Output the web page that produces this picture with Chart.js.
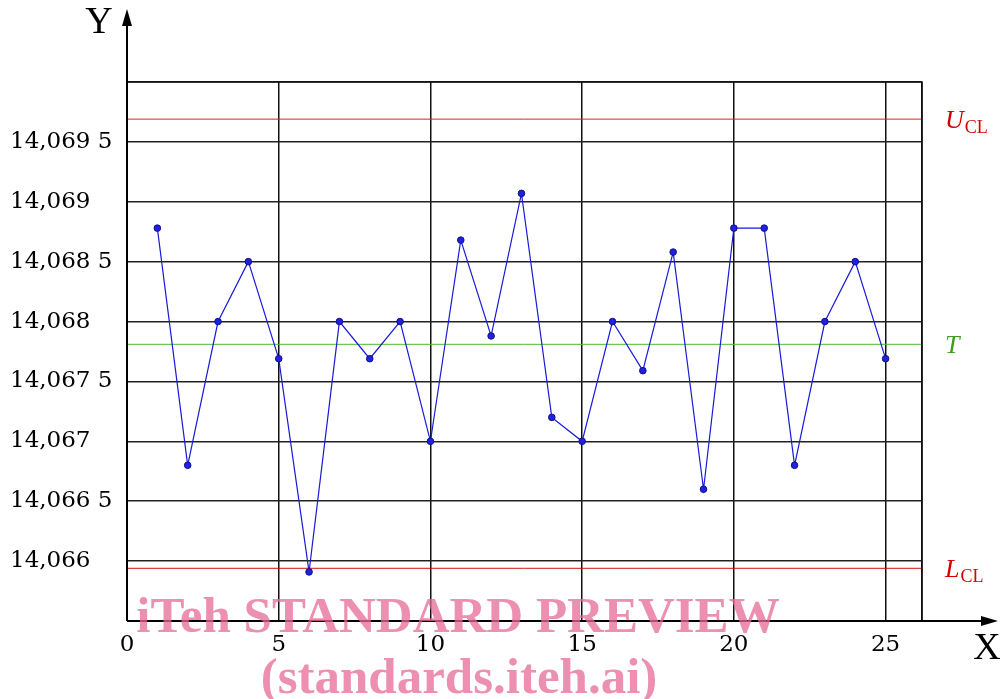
<!DOCTYPE html>
<html>
<head>
<meta charset="utf-8">
<script src="https://cdn.jsdelivr.net/npm/chart.js@4.4.1/dist/chart.umd.min.js"></script>
<style>
  html, body { margin: 0; padding: 0; background: #fff; }
  #wrap { width: 1000px; height: 699px; }
</style>
</head>
<body>
<div id="wrap"><canvas id="c" width="1000" height="699"></canvas></div>
<script>
// sample number 1..25 and measured value
const samples = [1, 2, 3, 4, 5, 6, 7, 8, 9, 10, 11, 12, 13, 14, 15, 16, 17, 18, 19, 20, 21, 22, 23, 24, 25];
const values = [
  14.06878, 14.0668, 14.068, 14.0685, 14.06769, 14.06591, 14.068, 14.06769, 14.068, 14.067,
  14.06868, 14.06788, 14.06907, 14.0672, 14.067, 14.068, 14.06759, 14.06858, 14.0666, 14.06878,
  14.06878, 14.0668, 14.068, 14.0685, 14.06769
];
const UCL = 14.06969;
const TARGET = 14.06781;
const LCL = 14.06594;

const xTicks = [0, 5, 10, 15, 20, 25, 26.2];
const xLabels = ["0", "5", "10", "15", "20", "25", ""];
const yTicks = [14.0655, 14.066, 14.0665, 14.067, 14.0675, 14.068, 14.0685, 14.069, 14.0695, 14.07];
const yLabels = ["", "14,066", "14,066 5", "14,067", "14,067 5", "14,068", "14,068 5", "14,069", "14,069 5", ""];

const X_MAX = 26.2;
const serif = "'Liberation Serif', 'DejaVu Serif', serif";
const tickFont = "'DejaVu Serif', serif";

const series = samples.map((s, i) => ({ x: s, y: values[i] }));
const hline = (v) => [{ x: 0, y: v }, { x: X_MAX, y: v }];

const decor = {
  id: "decor",
  afterDraw(chart) {
    const { ctx, chartArea: a, scales } = chart;
    ctx.save();
    // frame top and right
    ctx.strokeStyle = "#111";
    ctx.lineWidth = 1.5;
    ctx.beginPath();
    ctx.moveTo(a.left, a.top);
    ctx.lineTo(a.right, a.top);
    ctx.lineTo(a.right, a.bottom);
    ctx.stroke();
    // axes with arrows
    ctx.strokeStyle = "#000";
    ctx.fillStyle = "#000";
    ctx.lineWidth = 2;
    ctx.beginPath();
    ctx.moveTo(a.left, a.bottom);
    ctx.lineTo(a.left, 22);
    ctx.moveTo(a.left, a.bottom);
    ctx.lineTo(985, a.bottom);
    ctx.stroke();
    ctx.beginPath();
    ctx.moveTo(a.left, 9);
    ctx.lineTo(a.left - 5, 26);
    ctx.lineTo(a.left + 5, 26);
    ctx.closePath();
    ctx.fill();
    ctx.beginPath();
    ctx.moveTo(998, a.bottom);
    ctx.lineTo(981, a.bottom - 5);
    ctx.lineTo(981, a.bottom + 5);
    ctx.closePath();
    ctx.fill();
    // axis names
    ctx.font = "38px " + serif;
    ctx.textAlign = "center";
    ctx.textBaseline = "alphabetic";
    ctx.fillText("Y", 99, 33);
    ctx.fillText("X", 987, 659);
    // control line labels
    const y = scales.y;
    const lab = (main, sub, v, color) => {
      ctx.fillStyle = color;
      ctx.textAlign = "left";
      ctx.font = "italic 26px " + serif;
      const base = y.getPixelForValue(v) + 9;
      ctx.fillText(main, 945, base);
      if (sub) {
        const w = ctx.measureText(main).width;
        ctx.font = "18px " + serif;
        ctx.fillText(sub, 945 + w + 1, base + 5);
      }
    };
    lab("U", "CL", UCL, "#d40000");
    lab("T", "", TARGET, "#3a9e1e");
    lab("L", "CL", LCL, "#d40000");
    // watermark
    ctx.fillStyle = "rgba(230, 105, 150, 0.75)";
    ctx.textAlign = "center";
    ctx.font = "bold 51px " + serif;
    ctx.fillText("iTeh STANDARD PREVIEW", 458, 632);
    ctx.fillText("(standards.iteh.ai)", 459, 693);
    ctx.restore();
  }
};

new Chart(document.getElementById("c"), {
  type: "line",
  data: {
    datasets: [
      {
        data: series,
        borderColor: "#1a1ad8",
        borderWidth: 1.2,
        backgroundColor: "#2020e0",
        pointBorderColor: "#10108a",
        pointBorderWidth: 1,
        pointRadius: 3.3,
        tension: 0,
        order: 0
      },
      { data: hline(UCL), borderColor: "#e02020", borderWidth: 1, pointRadius: 0, order: 1 },
      { data: hline(TARGET), borderColor: "#52b830", borderWidth: 1, pointRadius: 0, order: 1 },
      { data: hline(LCL), borderColor: "#d01010", borderWidth: 1, pointRadius: 0, order: 1 }
    ]
  },
  options: {
    responsive: false,
    animation: false,
    layout: { padding: { left: 10, top: 82, right: 78, bottom: 0 } },
    plugins: { legend: { display: false }, tooltip: { enabled: false } },
    scales: {
      x: {
        type: "linear",
        min: 0,
        max: X_MAX,
        afterBuildTicks: (s) => { s.ticks = xTicks.map((v) => ({ value: v })); },
        afterFit: (s) => { s.height = 78; },
        ticks: {
          callback: (v) => xLabels[xTicks.indexOf(v)] ?? "",
          color: "#000",
          font: { family: tickFont, size: 23 },
          padding: 10,
          maxRotation: 0,
          autoSkip: false
        },
        grid: { color: "#111", lineWidth: 1.5, drawTicks: false },
        border: { display: false }
      },
      y: {
        min: 14.0655,
        max: 14.07,
        afterBuildTicks: (s) => { s.ticks = yTicks.map((v) => ({ value: v })); },
        afterFit: (s) => { s.width = 117; },
        ticks: {
          callback: (v) => {
            const i = yTicks.findIndex((t) => Math.abs(t - v) < 1e-7);
            return i >= 0 ? yLabels[i] : "";
          },
          color: "#000",
          font: { family: tickFont, size: 23 },
          crossAlign: "far",
          autoSkip: false
        },
        grid: { color: "#222", lineWidth: 1.5, drawTicks: false },
        border: { display: false }
      }
    }
  },
  plugins: [decor]
});
</script>
</body>
</html>
